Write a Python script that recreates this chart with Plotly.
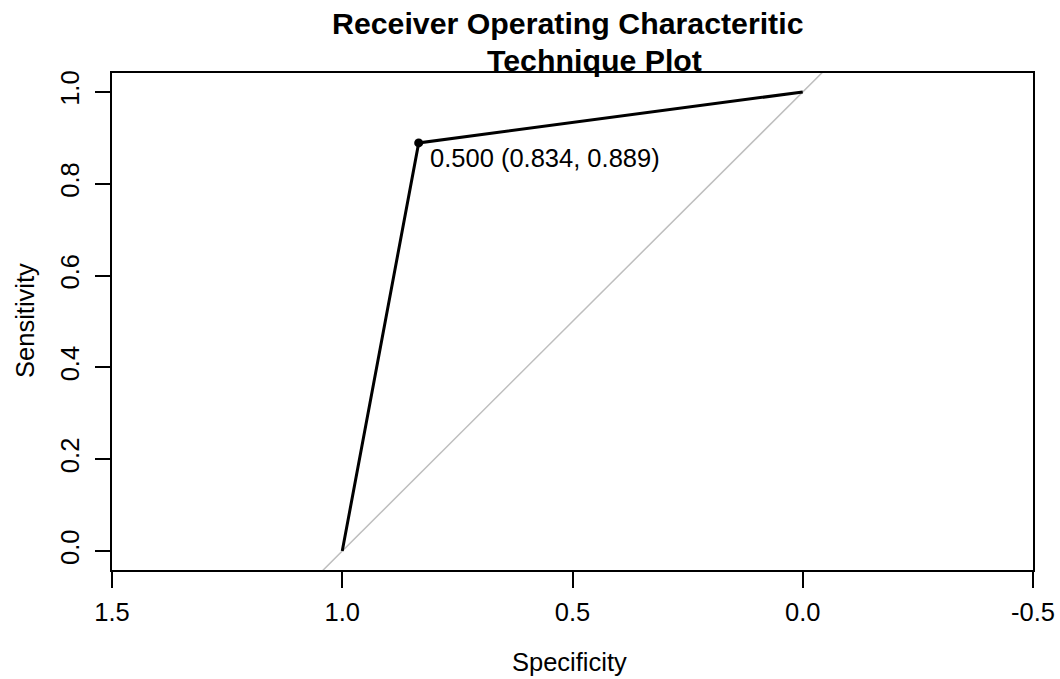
import plotly.graph_objects as go

# ROC curve data (specificity, sensitivity)
specificity = [1.0, 0.834, 0.0]
sensitivity = [0.0, 0.889, 1.0]
best_threshold = 0.500
best_spec = 0.834
best_sens = 0.889

# reference diagonal endpoints (specificity axis)
diag_x = [1.6, -0.6]
diag_y = [1 - v for v in diag_x]

x_ticks = [1.5, 1.0, 0.5, 0.0, -0.5]
x_ticklabels = ["1.5", "1.0", "0.5", "0.0", "-0.5"]
y_ticks = [0.0, 0.2, 0.4, 0.6, 0.8, 1.0]
y_ticklabels = ["0.0", "0.2", "0.4", "0.6", "0.8", "1.0"]

FONT = "Liberation Sans, Arial, Helvetica, sans-serif"
FS = 25.5

fig = go.Figure()
fig.add_trace(go.Scatter(x=diag_x, y=diag_y, mode="lines",
                         line=dict(color="#BEBEBE", width=1.5),
                         hoverinfo="skip", showlegend=False))
fig.add_trace(go.Scatter(x=specificity, y=sensitivity, mode="lines",
                         line=dict(color="black", width=3),
                         showlegend=False))
fig.add_trace(go.Scatter(x=[best_spec], y=[best_sens], mode="markers",
                         marker=dict(color="black", size=9),
                         showlegend=False))

fig.add_annotation(x=best_spec, y=best_sens, xref="x", yref="y",
                   text=f"{best_threshold:.3f} ({best_spec:.3f}, {best_sens:.3f})",
                   showarrow=False, xanchor="left", yanchor="middle",
                   xshift=9, yshift=-15,
                   font=dict(family=FONT, size=FS, color="black"))

# titles
fig.add_annotation(x=0.495, y=1.0986, xref="paper", yref="paper",
                   text="<b>Receiver Operating Characteritic</b>", showarrow=False,
                   xanchor="center", yanchor="middle",
                   font=dict(family=FONT, size=30.3, color="black"))
fig.add_annotation(x=0.5234, y=1.026, xref="paper", yref="paper",
                   text="<b>Technique Plot</b>", showarrow=False,
                   xanchor="center", yanchor="middle",
                   font=dict(family=FONT, size=30.3, color="black"))
fig.add_annotation(x=0.4965, y=-0.185, xref="paper", yref="paper",
                   text="Specificity", showarrow=False,
                   xanchor="center", yanchor="middle",
                   font=dict(family=FONT, size=FS, color="black"))
fig.add_annotation(x=-0.0945, y=0.503, xref="paper", yref="paper",
                   text="Sensitivity", showarrow=False, textangle=-90,
                   xanchor="center", yanchor="middle",
                   font=dict(family=FONT, size=FS, color="black"))

fig.update_layout(
    width=1060, height=679,
    margin=dict(l=112, r=27, t=73, b=109),
    plot_bgcolor="white", paper_bgcolor="white",
    font=dict(family=FONT, size=FS, color="black"),
)
fig.update_xaxes(range=[1.5, -0.5], tickvals=x_ticks, ticktext=x_ticklabels,
                 ticks="outside", ticklen=16, tickwidth=1.5, tickcolor="black",
                 showline=True, linecolor="black", linewidth=1.5, mirror=True,
                 showgrid=False, zeroline=False, automargin=False,
                 ticklabelstandoff=3,
                 tickfont=dict(family=FONT, size=FS))
fig.update_yaxes(range=[-0.0413, 1.0413], tickvals=y_ticks, ticktext=y_ticklabels,
                 ticks="outside", ticklen=15, tickwidth=1.5, tickcolor="black",
                 showline=True, linecolor="black", linewidth=1.5, mirror=True,
                 showgrid=False, zeroline=False, tickangle=-90, automargin=False,
                 ticklabelstandoff=6,
                 tickfont=dict(family=FONT, size=FS))

fig.write_html("out.html")
